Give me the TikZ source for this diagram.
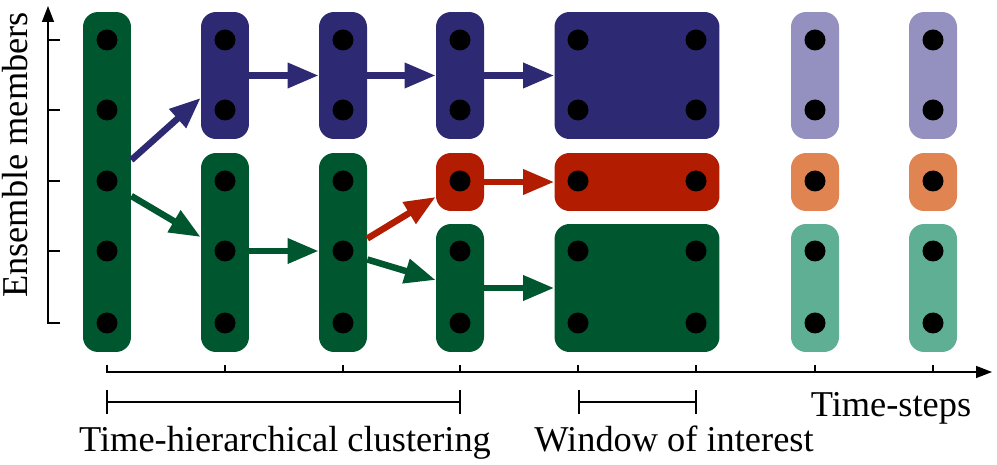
\documentclass[tikz,border=0pt]{standalone}
\usepackage{fontspec}
\setmainfont{Liberation Serif}
\usetikzlibrary{arrows.meta,calc}
\definecolor{dkgreen}{RGB}{0,87,47}
\definecolor{dkblue}{RGB}{46,41,115}
\definecolor{dkred}{RGB}{178,28,0}
\definecolor{lpurple}{RGB}{148,144,192}
\definecolor{lorange}{RGB}{224,133,82}
\definecolor{lteal}{RGB}{94,175,148}
\begin{document}
\begin{tikzpicture}[x=0.02cm,y=-0.02cm,
  box/.style={rounded corners=0.3cm, inner sep=0pt, draw=none},
  nbox/.style={box, minimum width=0.96cm},
  wbox/.style={box, minimum width=3.3cm},
  dot/.style={circle, fill=black, inner sep=0pt, minimum size=0.42cm},
  arr/.style={line width=0.13cm, -{Triangle[length=0.62cm,width=0.48cm]}},
  axis/.style={line width=0.03cm, black},
  lbl/.style={font=\fontsize{20.7}{24}\selectfont, inner sep=0pt}]
\useasboundingbox (0,0) rectangle (997,465);
% boxes
\node[nbox, fill=dkgreen, minimum height=6.8cm] (c1) at (107,182) {};
\node[nbox, fill=dkblue, minimum height=2.54cm] (b2) at (225,75.5) {};
\node[nbox, fill=dkgreen, minimum height=3.98cm] (g2) at (225,252.5) {};
\node[nbox, fill=dkblue, minimum height=2.54cm] (b3) at (343,75.5) {};
\node[nbox, fill=dkgreen, minimum height=3.98cm] (g3) at (343,252.5) {};
\node[nbox, fill=dkblue, minimum height=2.54cm] (b4) at (460,75.5) {};
\node[nbox, fill=dkred, minimum height=1.16cm] (r4) at (460,182) {};
\node[nbox, fill=dkgreen, minimum height=2.56cm] (g4) at (460,288) {};
\node[wbox, fill=dkblue, minimum height=2.54cm] (b5) at (637,75.5) {};
\node[wbox, fill=dkred, minimum height=1.16cm] (r5) at (637,182) {};
\node[wbox, fill=dkgreen, minimum height=2.56cm] (g5) at (637,288) {};
\node[nbox, fill=lpurple, minimum height=2.54cm] (p7) at (815,75.5) {};
\node[nbox, fill=lorange, minimum height=1.16cm] (o7) at (815,182) {};
\node[nbox, fill=lteal, minimum height=2.56cm] (t7) at (815,288) {};
\node[nbox, fill=lpurple, minimum height=2.54cm] (p8) at (933,75.5) {};
\node[nbox, fill=lorange, minimum height=1.16cm] (o8) at (933,182) {};
\node[nbox, fill=lteal, minimum height=2.56cm] (t8) at (933,288) {};
% dots
\foreach \c/\x in {1/107,2/225,3/343,4/460,5/578,6/696,7/815,8/933}{
  \foreach \r/\y in {1/40,2/110,3/181,4/251,5/323}{
    \node[dot] (d\c\r) at (\x,\y) {};
  }
}
% arrows
\draw[arr, dkblue] ($(c1.east)+(0,-22)$) -- ($(b2.west)+(0,22.5)$);
\draw[arr, dkgreen] ($(c1.east)+(0,14)$) -- ($(g2.west)+(0,-15.5)$);
\draw[arr, dkblue] (b2.east) -- (b3.west);
\draw[arr, dkblue] (b3.east) -- (b4.west);
\draw[arr, dkblue] (b4.east) -- (b5.west);
\draw[arr, dkgreen] ($(g2.east)+(0,-1.5)$) -- ($(g3.west)+(0,-1.5)$);
\draw[arr, dkred] ($(g3.east)+(0,-14)$) -- ($(r4.west)+(0,15)$);
\draw[arr, dkgreen] ($(g3.east)+(0,7)$) -- ($(g4.west)+(0,-8)$);
\draw[arr, dkred] (r4.east) -- (r5.west);
\draw[arr, dkgreen] (g4.east) -- (g5.west);
% axes
\coordinate (ya0) at (60,323);
\coordinate (ya1) at (48,323);
\coordinate (ya2) at (48,6);
\draw[axis, -{Triangle[length=0.32cm,width=0.24cm]}] (ya0) -- (ya1) -- (ya2);
\foreach \y in {40,110,181,251}{\draw[axis] (48,\y) -- (60,\y);}
\coordinate (xa0) at (107,365);
\coordinate (xa1) at (107,372);
\coordinate (xa2) at (992,372);
\draw[axis, -{Triangle[length=0.32cm,width=0.24cm]}] (xa0) -- (xa1) -- (xa2);
\foreach \x in {225,343,460,578,696,815,933}{\draw[axis] (\x,372) -- (\x,365);}
% brackets
\coordinate (h1) at (107,402);
\coordinate (h2) at (460,402);
\coordinate (w1) at (579,402);
\coordinate (w2) at (696,402);
\draw[axis] (h1) -- (h2);
\draw[axis] (107,390) -- (107,414);
\draw[axis] (460,390) -- (460,414);
\draw[axis] (w1) -- (w2);
\draw[axis] (579,390) -- (579,414);
\draw[axis] (696,390) -- (696,414);
% labels
\node[lbl, anchor=base] (ts) at (891,417) {Time-steps};
\node[lbl, anchor=base] (thc) at (285,452) {Time-hierarchical clustering};
\node[lbl, anchor=base] (woi) at (674,452) {Window of interest};
\node[lbl, anchor=base, rotate=90] (ens) at (28,155) {Ensemble members};
\end{tikzpicture}
\end{document}
